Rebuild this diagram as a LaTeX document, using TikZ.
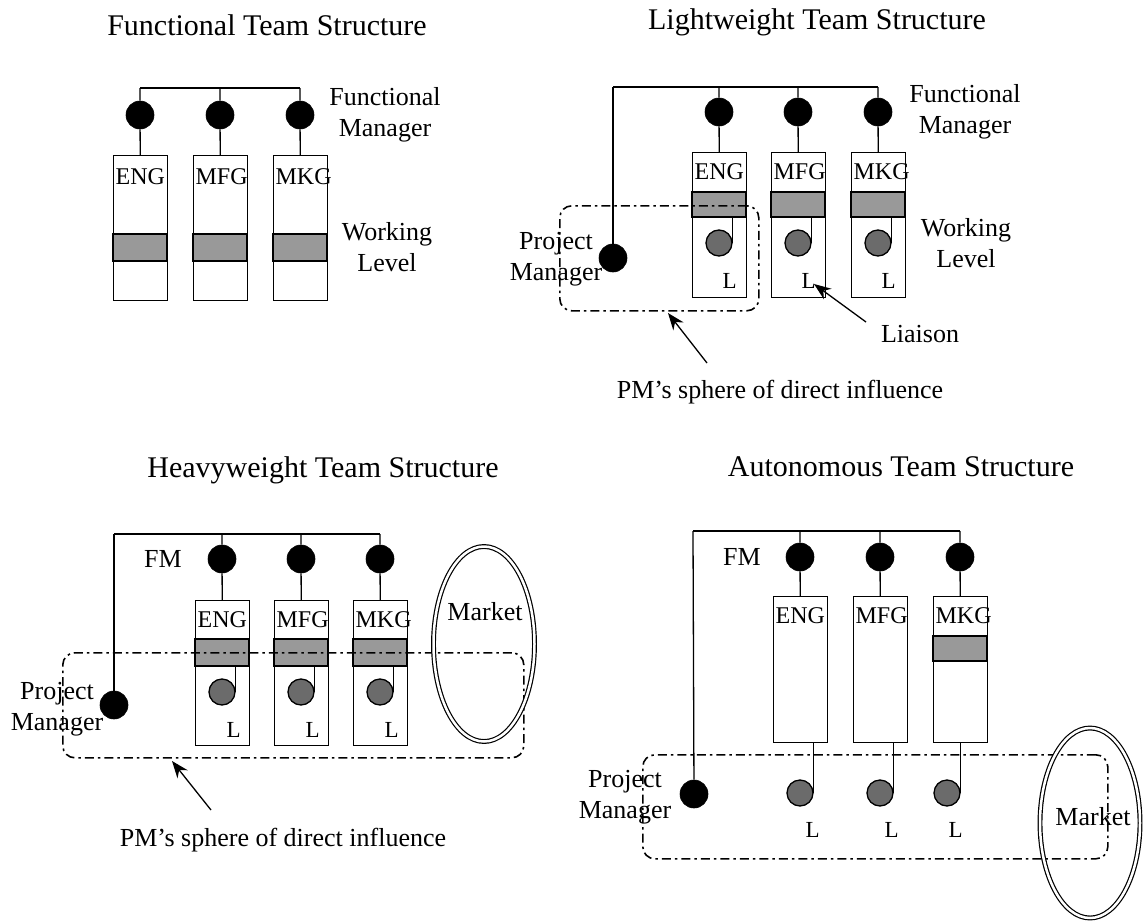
\documentclass[tikz,border=0pt]{standalone}
\usepackage{fontspec}
\setmainfont{Liberation Serif}
\usetikzlibrary{shapes.geometric,arrows.meta}
\begin{document}
\begin{tikzpicture}[x=1pt,y=-1pt,
  line width=1.3pt,
  mgr/.style={circle, fill=black, draw=black, line width=0.6pt, minimum size=28pt, inner sep=0pt},
  lia/.style={circle, fill=black!58, draw=black, line width=1.3pt, minimum size=26pt, inner sep=0pt},
  unitbox/.style={draw, line width=1.3pt, minimum width=54pt, minimum height=145pt, anchor=north west, inner sep=0pt},
  band/.style={draw, fill=black!40, line width=1.3pt},
  boxlbl/.style={anchor=west, inner sep=0pt, font=\fontsize{24}{26}\selectfont},
  llbl/.style={anchor=west, inner sep=0pt, font=\fontsize{23}{26}\selectfont},
  lbl/.style={align=center, inner sep=0pt, font=\fontsize{26}{31}\selectfont},
  ttl/.style={inner sep=0pt, font=\fontsize{30}{34}\selectfont},
  sphere/.style={draw, dash pattern=on 9pt off 4pt on 2.5pt off 4pt, rounded corners=12pt, line width=1.6pt},
  market/.style={ellipse, draw, double, double distance=2.5pt, line width=1.2pt, inner sep=0pt},
  arr/.style={-{Stealth[length=17pt,width=13pt]}, line width=1.3pt}
]
\useasboundingbox (0,0) rectangle (1144,921);

% ================= Functional =================
\node[ttl] (t1) at (267,25) {Functional Team Structure};
\coordinate (f1b) at (140,88);
\coordinate (f2b) at (220,88);
\coordinate (f3b) at (300,88);
\node[mgr] (f1m) at (140,115) {};
\node[mgr] (f2m) at (220,115) {};
\node[mgr] (f3m) at (300,115) {};
\node[unitbox] (f1u) at (113,155) {};
\node[unitbox] (f2u) at (193,155) {};
\node[unitbox] (f3u) at (273,155) {};
\draw[band] (113,234) rectangle (167,261);
\draw[band] (193,234) rectangle (247,261);
\draw[band] (273,234) rectangle (327,261);
\node[boxlbl] at (115,177) {ENG};
\node[boxlbl] at (195,177) {MFG};
\node[boxlbl] at (275,177) {MKG};
\draw (f1b) -- (f3b);
\draw (f1b) -- (f1m) -- (f1u);
\draw (f2b) -- (f2m) -- (f2u);
\draw (f3b) -- (f3m) -- (f3u);
\node[lbl] (fm1) at (385,115) {Functional\\Manager};
\node[lbl] (wl1) at (387,247) {Working\\Level};

% ================= Lightweight =================
\node[ttl] (t2) at (817,22) {Lightweight Team Structure};
\coordinate (g0b) at (613,87);
\coordinate (g1b) at (719,87);
\coordinate (g2b) at (798,87);
\coordinate (g3b) at (878,87);
\node[mgr] (g1m) at (719,112) {};
\node[mgr] (g2m) at (798,112) {};
\node[mgr] (g3m) at (878,112) {};
\node[unitbox] (g1u) at (692,152) {};
\node[unitbox] (g2u) at (771,152) {};
\node[unitbox] (g3u) at (851,152) {};
\draw[band] (692,192) rectangle (746,217);
\draw[band] (771,192) rectangle (825,217);
\draw[band] (851,192) rectangle (905,217);
\node[boxlbl] at (694,172) {ENG};
\node[boxlbl] at (773,172) {MFG};
\node[boxlbl] at (853,172) {MKG};
\node[mgr] (gpm) at (613,258) {};
\draw (g0b) -- (g3b);
\draw (g0b) -- (gpm);
\draw (g1b) -- (g1m) -- (g1u);
\draw (g2b) -- (g2m) -- (g2u);
\draw (g3b) -- (g3m) -- (g3u);
\node[lia] (g1l) at (719,243) {};
\node[lia] (g2l) at (798,243) {};
\node[lia] (g3l) at (878,243) {};
\draw (g1l.east) -- ++(0,-26);
\draw (g2l.east) -- ++(0,-26);
\draw (g3l.east) -- ++(0,-26);
\node[llbl] (g1L) at (722,281) {L};
\node[llbl] (g2L) at (801,281) {L};
\node[llbl] (g3L) at (881,281) {L};
\node[lbl] (gpmt) at (556,259) {Project\\Manager};
\node[sphere, minimum width=199pt, minimum height=105pt, anchor=north west] (gsp) at (559,205) {};
\node[lbl] (gsph) at (780,392) {PM's sphere of direct influence};
\coordinate (ga1) at (707,363);
\coordinate (ga2) at (668,313);
\draw[arr] (ga1) -- (ga2);
\node[lbl] (glia) at (920,334) {Liaison};
\coordinate (gb1) at (866,322);
\coordinate (gb2) at (814,284);
\draw[arr] (gb1) -- (gb2);
\node[lbl] (fm2) at (965,112) {Functional\\Manager};
\node[lbl] (wl2) at (966,243) {Working\\Level};

% ================= Heavyweight =================
\node[ttl] (t3) at (323,470) {Heavyweight Team Structure};
\coordinate (h0b) at (114,534);
\coordinate (h1b) at (222,534);
\coordinate (h2b) at (301,534);
\coordinate (h3b) at (380,534);
\node[mgr] (h1m) at (222,559) {};
\node[mgr] (h2m) at (301,559) {};
\node[mgr] (h3m) at (380,559) {};
\node[lbl] (hfm) at (163,559) {FM};
\node[unitbox] (h1u) at (195,600) {};
\node[unitbox] (h2u) at (274,600) {};
\node[unitbox] (h3u) at (353,600) {};
\draw[band] (195,639) rectangle (249,666);
\draw[band] (274,639) rectangle (328,666);
\draw[band] (353,639) rectangle (407,666);
\node[boxlbl] at (197,620) {ENG};
\node[boxlbl] at (276,620) {MFG};
\node[boxlbl] at (355,620) {MKG};
\node[mgr] (hpm) at (114,705) {};
\draw (h0b) -- (h3b);
\draw (h0b) -- (hpm);
\draw (h1b) -- (h1m) -- (h1u);
\draw (h2b) -- (h2m) -- (h2u);
\draw (h3b) -- (h3m) -- (h3u);
\node[lia] (h1l) at (222,692) {};
\node[lia] (h2l) at (301,692) {};
\node[lia] (h3l) at (380,692) {};
\draw (h1l.east) -- ++(0,-26);
\draw (h2l.east) -- ++(0,-26);
\draw (h3l.east) -- ++(0,-26);
\node[llbl] (h1L) at (226,730) {L};
\node[llbl] (h2L) at (305,730) {L};
\node[llbl] (h3L) at (384,730) {L};
\node[lbl] (hpmt) at (57,709) {Project\\Manager};
\node[sphere, minimum width=461pt, minimum height=105pt, anchor=north west] (hsp) at (62,652) {};
\node[market, minimum width=101pt, minimum height=195pt] (hmk) at (484,644) {};
\node[lbl] (hmkt) at (485,612) {Market};
\coordinate (ha1) at (211,810);
\coordinate (ha2) at (172,761);
\draw[arr] (ha1) -- (ha2);
\node[lbl] (hsph) at (283,840) {PM's sphere of direct influence};

% ================= Autonomous =================
\node[ttl] (t4) at (901,467) {Autonomous Team Structure};
\coordinate (a0b) at (693,531);
\coordinate (a1b) at (800,531);
\coordinate (a2b) at (880,531);
\coordinate (a3b) at (960,531);
\node[mgr] (a1m) at (800,557) {};
\node[mgr] (a2m) at (880,557) {};
\node[mgr] (a3m) at (960,557) {};
\node[lbl] (afm) at (742,557) {FM};
\node[unitbox, minimum height=146pt] (a1u) at (773,596) {};
\node[unitbox, minimum height=146pt] (a2u) at (853,596) {};
\node[unitbox, minimum height=146pt] (a3u) at (933,596) {};
\draw[band] (933,636) rectangle (987,661);
\node[boxlbl] at (775,616) {ENG};
\node[boxlbl] at (855,616) {MFG};
\node[boxlbl] at (935,616) {MKG};
\node[mgr] (apm) at (694,794) {};
\draw (a0b) -- (a3b);
\draw (a0b) -- (apm);
\draw (a1b) -- (a1m) -- (a1u);
\draw (a2b) -- (a2m) -- (a2u);
\draw (a3b) -- (a3m) -- (a3u);
\node[lia] (a1l) at (800,793) {};
\node[lia] (a2l) at (880,793) {};
\node[lia] (a3l) at (947,793) {};
\draw (a1l.east) -- (a1l.east |- a1u.south);
\draw (a2l.east) -- (a2l.east |- a2u.south);
\draw (a3l.east) -- (a3l.east |- a3u.south);
\node[llbl] (a1L) at (805,830) {L};
\node[llbl] (a2L) at (884,830) {L};
\node[llbl] (a3L) at (948,830) {L};
\node[lbl] (apmt) at (625,797) {Project\\Manager};
\node[sphere, minimum width=465pt, minimum height=104pt, anchor=north west] (asp) at (642,754) {};
\node[market, minimum width=100pt, minimum height=190pt] (amk) at (1090,823) {};
\node[lbl] (amkt) at (1093,817) {Market};
\end{tikzpicture}
\end{document}
